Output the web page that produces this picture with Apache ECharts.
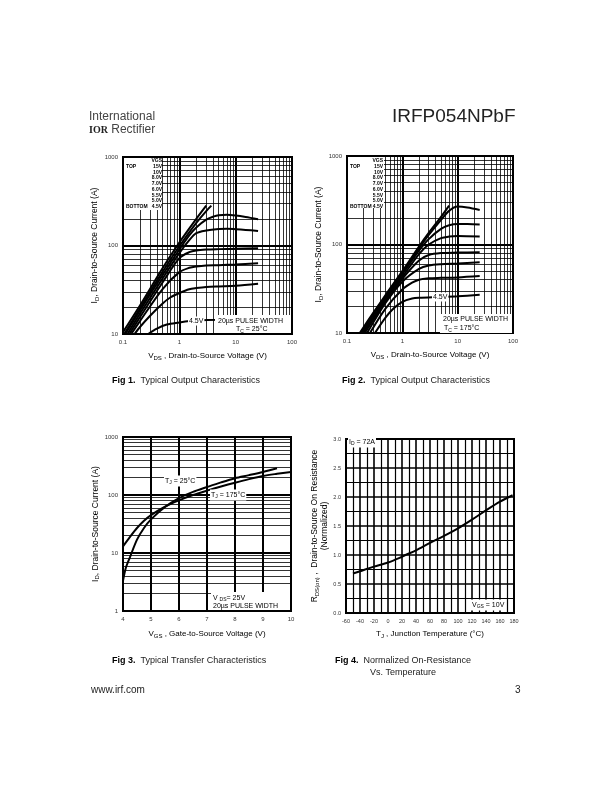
<!DOCTYPE html>
<html>
<head>
<meta charset="utf-8">
<script src="https://cdn.jsdelivr.net/npm/echarts@6/dist/echarts.min.js"></script>
<style>
html, body { margin: 0; padding: 0; background: #fff; }
#page { width: 612px; height: 792px; }
</style>
</head>
<body>
<div id="page"></div>
<script>
// gate voltages, top to bottom
const vgsLabels = ['15V', '10V', '8.0V', '7.0V', '6.0V', '5.5V', '5.0V', '4.5V'];

// Fig 1 : Tc = 25C, [VDS, ID]
const fig1_15V = [[0.1,10.5],[0.2,21],[0.5,55],[1,108],[2,200],[3,282]];
const fig1_10V = [[0.105,10],[0.2,19.5],[0.5,50],[1,98],[2,180],[3,245],[3.7,282]];
const fig1_8V  = [[0.11,10],[0.2,18.5],[0.5,46],[1,90],[1.5,130],[2,160],[3,196],[4,212],[5,220],[7,222],[10,218],[15,210],[25,198]];
const fig1_7V  = [[0.12,10],[0.2,17],[0.5,42],[1,82],[1.5,115],[2,138],[3,148],[5,154],[7,155],[10,153],[15,150],[25,146]];
const fig1_6V  = [[0.13,10],[0.2,15.5],[0.5,38],[1,72],[1.5,84],[2,88],[3,90],[5,91],[10,92],[25,93]];
const fig1_55V = [[0.14,10],[0.2,14],[0.5,32],[1,50],[1.5,56],[2,58],[3,59.5],[5,60],[10,61],[25,63]];
const fig1_5V  = [[0.16,10],[0.2,12],[0.3,16],[0.5,22],[0.7,26],[1,29],[1.5,32],[2,33],[3,34],[5,34.5],[10,35],[25,37]];
const fig1_45V = [[0.28,10],[0.4,11.5],[0.6,12.8],[1,13.5],[1.5,14],[2,14.2],[5,14.5],[10,14.8],[25,15]];

// Fig 2 : Tc = 175C, [VDS, ID]
const fig2_15V = [[0.17,10],[0.3,17],[0.5,27],[1,50],[2,95],[3,135],[5,205],[7,275]];
const fig2_10V = [[0.18,10],[0.3,16.5],[0.5,26],[1,48],[2,90],[3,128],[5,190],[7,240],[10,268],[15,262],[25,246]];
const fig2_8V  = [[0.19,10],[0.3,16],[0.5,25],[1,46],[2,85],[3,115],[5,150],[7,165],[10,171],[15,170],[25,168]];
const fig2_7V  = [[0.2,10],[0.3,15],[0.5,24],[1,43],[2,78],[3,100],[5,118],[7,123],[10,125],[25,123]];
const fig2_6V  = [[0.21,10],[0.5,23],[1,41],[2,66],[3,76],[5,80],[10,81],[25,82]];
const fig2_55V = [[0.23,10],[0.5,22],[1,38],[2,53],[3,58],[5,60],[10,61],[25,63]];
const fig2_5V  = [[0.26,10],[0.5,19],[1,31],[1.5,37],[2,40],[3,41.5],[5,42],[10,42.5],[25,44]];
const fig2_45V = [[0.32,10],[0.5,15],[0.7,19],[1,22.5],[1.5,24.5],[2,25],[5,25.5],[10,26],[25,27]];

// Fig 3 : transfer, [VGS, ID]
const fig3_25C  = [[4,3.3],[4.1,5.5],[4.25,8.5],[4.5,17],[4.75,27],[5,38],[5.5,62],[6,88],[6.5,113],[7,137],[7.5,165],[8,195],[8.5,220],[9,250],[9.5,290]];
const fig3_175C = [[4,13],[4.25,19],[4.5,27],[4.75,36],[5,45],[5.5,63],[6,81],[6.5,100],[7,119],[7.5,140],[8,163],[8.5,188],[9,213],[9.5,232],[10,250]];

// Fig 4 : normalized RDS(on), [TJ, R]
const fig4_rds = [[-50,0.68],[-40,0.72],[-20,0.8],[0,0.87],[20,0.97],[25,1.0],[40,1.08],[60,1.21],[80,1.33],[100,1.46],[120,1.61],[140,1.77],[160,1.92],[178,2.03]];

// log grid minor lines
const minorX12 = [0.2,0.3,0.4,0.5,0.6,0.7,0.8,0.9,2,3,4,5,6,7,8,9,20,30,40,50,60,70,80,90];
const minorY12 = [20,30,40,50,60,70,80,90,200,300,400,500,600,700,800,900];
const minorY3  = [2,3,4,5,6,7,8,9,20,30,40,50,60,70,80,90,200,300,400,500,600,700,800,900];

const FONT = 'Liberation Sans';
const subRich = { s: { fontSize: 6, fontFamily: FONT, padding: [5, 0, 0, 0] } };

function curve(data, gi) {
    return {
        type: 'line', xAxisIndex: gi, yAxisIndex: gi, data: data,
        showSymbol: false, smooth: 0.3, silent: true, animation: false,
        lineStyle: { color: '#000', width: 2 }
    };
}

function minorGrid(gi, xs, ys) {
    return {
        type: 'line', xAxisIndex: gi, yAxisIndex: gi, data: [], silent: true, animation: false,
        markLine: {
            silent: true, symbol: 'none', animation: false, label: { show: false },
            lineStyle: { color: '#000', width: 0.8, type: 'solid' },
            data: xs.map(v => ({ xAxis: v })).concat(ys.map(v => ({ yAxis: v })))
        }
    };
}

const tickLabel = { fontSize: 6, fontFamily: FONT, color: '#333', margin: 5 };
const thick = { show: true, lineStyle: { color: '#000', width: 2 } };

function logAxis(min, max) {
    return {
        type: 'log', logBase: 10, min: min, max: max,
        axisLine: { show: false }, axisTick: { show: false },
        splitLine: thick,
        axisLabel: Object.assign({}, tickLabel, { formatter: v => String(v) })
    };
}

function xName(text, gap) {
    return { name: text, nameLocation: 'middle', nameGap: gap,
        nameTextStyle: { fontSize: 8, fontFamily: FONT, color: '#000', rich: subRich } };
}
function yName(text, gap) {
    return { name: text, nameLocation: 'middle', nameGap: gap, nameRotate: 90,
        nameTextStyle: { fontSize: 8.5, fontFamily: FONT, color: '#000', rich: subRich } };
}

const gridBox = { show: true, borderColor: '#000', borderWidth: 2, backgroundColor: 'transparent' };

// legend block (VGS list) for fig 1 / fig 2
function vgsBlock(xLeft, xRight, y0) {
    const els = [];
    const f = 'bold 5px ' + FONT;
    els.push({ type: 'text', z: 101, x: xRight, y: y0, style: { text: 'VGS', font: f, fill: '#000', align: 'right', verticalAlign: 'middle' } });
    vgsLabels.forEach(function (t, i) {
        const y = y0 + (i + 1) * 5.7;
        els.push({ type: 'text', z: 101, x: xRight, y: y, style: { text: t, font: f, fill: '#000', align: 'right', verticalAlign: 'middle' } });
    });
    els.push({ type: 'text', z: 101, x: xLeft, y: y0 + 5.7, style: { text: 'TOP', font: f, fill: '#000', verticalAlign: 'middle' } });
    els.push({ type: 'text', z: 101, x: xLeft, y: y0 + 8 * 5.7, style: { text: 'BOTTOM', font: f, fill: '#000', verticalAlign: 'middle' } });
    return els;
}

function whiteRect(x, y, w, h) {
    return { type: 'rect', z: 100, shape: { x: x, y: y, width: w, height: h }, style: { fill: '#fff' } };
}
function label(x, y, text, size, bg) {
    const st = { text: text, font: (size || 7) + 'px ' + FONT, fill: '#000', verticalAlign: 'middle', rich: {
        s: { fontSize: 5, fontFamily: FONT, padding: [4, 0, 0, 0] } } };
    if (bg) { st.backgroundColor = '#fff'; st.padding = [1, 1]; }
    return { type: 'text', z: 102, x: x, y: y, style: st };
}
function caption(x, y, fig, text) {
    return { type: 'text', z: 102, x: x, y: y, style: {
        text: '{b|' + fig + '}  ' + text, font: '9px ' + FONT, fill: '#222', verticalAlign: 'middle',
        rich: { b: { fontWeight: 'bold', fontSize: 9, fontFamily: FONT, fill: '#000' } } } };
}

const option = {
    backgroundColor: '#fff',
    animation: false,
    grid: [
        Object.assign({ left: 123, top: 157, width: 169, height: 177 }, gridBox),
        Object.assign({ left: 347, top: 156, width: 166, height: 177 }, gridBox),
        Object.assign({ left: 123, top: 437, width: 168, height: 174 }, gridBox),
        Object.assign({ left: 346, top: 439, width: 168, height: 174 }, gridBox)
    ],
    xAxis: [
        Object.assign(logAxis(0.1, 100), { gridIndex: 0 }, xName('V{s|DS} , Drain-to-Source Voltage (V)', 16)),
        Object.assign(logAxis(0.1, 100), { gridIndex: 1 }, xName('V{s|DS} , Drain-to-Source Voltage (V)', 16)),
        Object.assign({
            gridIndex: 2, type: 'value', min: 4, max: 10, interval: 1,
            axisLine: { show: false }, axisTick: { show: false },
            splitLine: thick, axisLabel: tickLabel
        }, xName('V{s|GS} , Gate-to-Source Voltage (V)', 17)),
        Object.assign({
            gridIndex: 3, type: 'value', min: -60, max: 180, interval: 20,
            axisLine: { show: false }, axisTick: { show: false },
            minorTick: { show: false, splitNumber: 2 },
            splitLine: { show: true, lineStyle: { color: '#000', width: 1.6 } },
            minorSplitLine: { show: true, lineStyle: { color: '#000', width: 1.2 } },
            axisLabel: Object.assign({}, tickLabel, { fontSize: 5.5 })
        }, xName('T{s|J} , Junction Temperature (°C)', 15))
    ],
    yAxis: [
        Object.assign(logAxis(10, 1000), { gridIndex: 0 }, yName('I{s|D}, Drain-to-Source Current (A)', 23)),
        Object.assign(logAxis(10, 1000), { gridIndex: 1 }, yName('I{s|D}, Drain-to-Source Current (A)', 23)),
        Object.assign(logAxis(1, 1000), { gridIndex: 2 }, yName('I{s|D}, Drain-to-Source Current (A)', 22)),
        Object.assign({
            gridIndex: 3, type: 'value', min: 0, max: 3, interval: 0.5,
            axisLine: { show: false }, axisTick: { show: false },
            minorTick: { show: false, splitNumber: 2 },
            splitLine: { show: true, lineStyle: { color: '#000', width: 1.6 } },
            minorSplitLine: { show: true, lineStyle: { color: '#000', width: 1.2 } },
            axisLabel: Object.assign({}, tickLabel, { fontSize: 5.5, formatter: v => v.toFixed(1) })
        }, yName('R{s|DS(on)} ,  Drain-to-Source On Resistance\n(Normalized)', 17))
    ],
    series: [
        minorGrid(0, minorX12, minorY12),
        minorGrid(1, minorX12, minorY12),
        minorGrid(2, [], minorY3),
        curve(fig1_15V, 0), curve(fig1_10V, 0), curve(fig1_8V, 0), curve(fig1_7V, 0),
        curve(fig1_6V, 0), curve(fig1_55V, 0), curve(fig1_5V, 0), curve(fig1_45V, 0),
        curve(fig2_15V, 1), curve(fig2_10V, 1), curve(fig2_8V, 1), curve(fig2_7V, 1),
        curve(fig2_6V, 1), curve(fig2_55V, 1), curve(fig2_5V, 1), curve(fig2_45V, 1),
        curve(fig3_25C, 2), curve(fig3_175C, 2),
        curve(fig4_rds, 3)
    ],
    graphic: [].concat(
        [
            { type: 'text', x: 89, y: 117, style: { text: 'International', font: '12px ' + FONT, fill: '#444', verticalAlign: 'middle' } },
            { type: 'text', x: 89, y: 130, style: { text: '{b|IOR} Rectifier', font: '12px ' + FONT, fill: '#444', verticalAlign: 'middle',
                rich: { b: { fontWeight: 'bold', fontSize: 10, fontFamily: 'Liberation Serif', fill: '#222' } } } },
            { type: 'text', x: 392, y: 117, style: { text: 'IRFP054NPbF', font: '19px ' + FONT, fill: '#222', verticalAlign: 'middle' } },

            whiteRect(124, 158, 38, 52),
            whiteRect(348, 157, 36, 51),
            whiteRect(215, 315, 76, 18),
            whiteRect(440, 314, 72, 19),
            whiteRect(211, 592, 79, 18),

            label(188, 321, '4.5V', 7, true),
            label(218, 321, '20µs PULSE WIDTH', 7),
            label(236, 329.5, 'T{s|C} = 25°C', 7),
            label(432, 297, '4.5V', 7, true),
            label(443, 319.5, '20µs PULSE WIDTH', 7),
            label(444, 328.5, 'T{s|C} = 175°C', 7),

            label(164, 481, 'T{s|J} = 25°C', 7, true),
            label(210, 495, 'T{s|J} = 175°C', 7, true),
            label(213, 598, 'V {s|DS}= 25V', 7),
            label(213, 606.5, '20µs PULSE WIDTH', 7),

            label(348, 442, 'I{s|D} = 72A', 7, true),
            label(471, 605, 'V{s|GS} = 10V', 7, true),

            caption(112, 381, 'Fig 1.', 'Typical Output Characteristics'),
            caption(342, 381, 'Fig 2.', 'Typical Output Characteristics'),
            caption(112, 661, 'Fig 3.', 'Typical Transfer Characteristics'),
            caption(335, 661, 'Fig 4.', 'Normalized On-Resistance'),
            { type: 'text', x: 370, y: 673, style: { text: 'Vs. Temperature', font: '9px ' + FONT, fill: '#222', verticalAlign: 'middle' } },
            { type: 'text', x: 91, y: 690, style: { text: 'www.irf.com', font: '10px ' + FONT, fill: '#222', verticalAlign: 'middle' } },
            { type: 'text', x: 515, y: 690, style: { text: '3', font: '10px ' + FONT, fill: '#222', verticalAlign: 'middle' } }
        ],
        vgsBlock(126, 162, 161),
        vgsBlock(350, 383, 161)
    )
};

const chart = echarts.init(document.getElementById('page'));
chart.setOption(option);
</script>
</body>
</html>
